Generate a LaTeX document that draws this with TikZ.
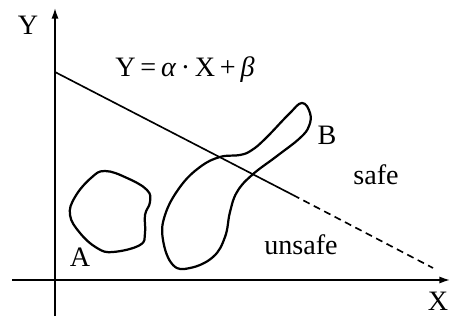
\documentclass[tikz,border=0pt]{standalone}
\usepackage{fontspec}
\setmainfont{Liberation Serif}
\usepackage{tikz}
\usetikzlibrary{arrows.meta,positioning,calc}

\tikzset{
  lbl/.style={inner sep=0pt,font=\fontsize{24}{28}\selectfont},
  axis/.style={line width=1.3pt,-{Latex[length=9pt,width=6pt]}},
  region/.style={line width=1.9pt,smooth cycle,tension=0.7},
  border/.style={line width=1.4pt}
}

\begin{document}
\begin{tikzpicture}[x=0.03cm,y=-0.03cm]
        \useasboundingbox (0,0) rectangle (450,320);

        % Axes
        \coordinate (yfoot) at (55,316);
        \coordinate (ytip) at (55,8);
        \coordinate (xfoot) at (12,280);
        \coordinate (xtip) at (450,280);
        \draw[axis] (yfoot) -- (ytip);
        \draw[axis] (xfoot) -- (xtip);
        \node[lbl] (ylab) at (28,25) {Y};
        \node[lbl] (xlab) at (438,301) {X};

        % Boundary line
        \coordinate (lstart) at (55,72);
        \coordinate (lmid) at (293,195);
        \coordinate (lend) at (433,268);
        \draw[border] (lstart) -- (lmid);
        \draw[border,dashed,dash pattern=on 6pt off 4pt] (lmid) -- (lend);
        \node[lbl] (eq) at (185,70) {Y\,=\,\textit{α}\,·\,X\,+\,\textit{β}};

        % Region A
        \draw[region] plot coordinates {(105,171) (127,178) (147,190) (150,202)
            (145,215) (145,233) (140,245) (113,252) (97,248) (80,233)
            (70,215) (75,197) (91,178)};
        \node[lbl] (alab) at (80,257) {A};

        % Region B
        \draw[region] plot coordinates {(302,103) (310,113) (309,126) (300,138)
            (277,156) (252,175) (237,192) (230,212) (225,237) (213,257)
            (190,268) (173,265) (163,240) (165,215) (180,187) (200,167)
            (220,157) (240,155) (252,150) (266,138) (289,114)};
        \node[lbl] (blab) at (327,135) {B};

        % Side labels
        \node[lbl] (safe) at (376,175) {safe};
        \node[lbl] (unsafe) at (301,245) {unsafe};
    \end{tikzpicture}
\end{document}
